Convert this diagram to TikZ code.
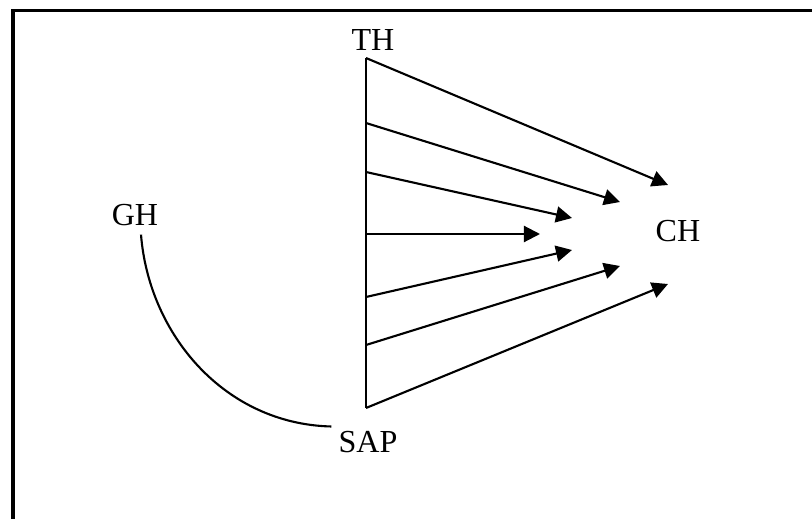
\documentclass[tikz,border=0pt]{standalone}
\usepackage{fontspec}
\setmainfont{Liberation Serif}
\usetikzlibrary{arrows.meta, calc}

\begin{document}
\begin{tikzpicture}[
    x=0.025cm, y=-0.025cm,
    lbl/.style={inner sep=0pt, anchor=base, font=\fontsize{22.8}{27}\selectfont},
    ln/.style={line width=1.5pt},
    arr/.style={ln, -{Triangle[length=4mm, width=4mm]}}
]
    \useasboundingbox (0,0) rectangle (812,519);
    % open frame, only top and left edge show
    \draw[line width=2.2pt] (13,519) -- (13,10.5) -- (812,10.5);

    \node[lbl] (th) at (373,51) {TH};
    \node[lbl] (sap) at (368,452) {SAP};
    \node[lbl] (gh) at (135,226) {GH};
    \node[lbl] (ch) at (678,242) {CH};

    \coordinate (spinetop) at (366,58);
    \coordinate (spinebot) at (366,408);
    \draw[ln] (spinetop) -- (spinebot);

    \foreach \i/\ys/\tx/\ty in {1/58/668/185, 2/123/620/202, 3/172/572/218, 4/234/540/234,
                                5/297/572/250, 6/345/620/266, 7/408/668/284} {
        \coordinate (s\i) at (366,\ys);
        \coordinate (t\i) at (\tx,\ty);
        \draw[arr] (s\i) -- (t\i);
    }

    \draw[ln] ([shift={(6,8)}]gh.south) .. controls (149,335) and (225,424) .. ([shift={(-7,-4)}]sap.north west);
\end{tikzpicture}
\end{document}
